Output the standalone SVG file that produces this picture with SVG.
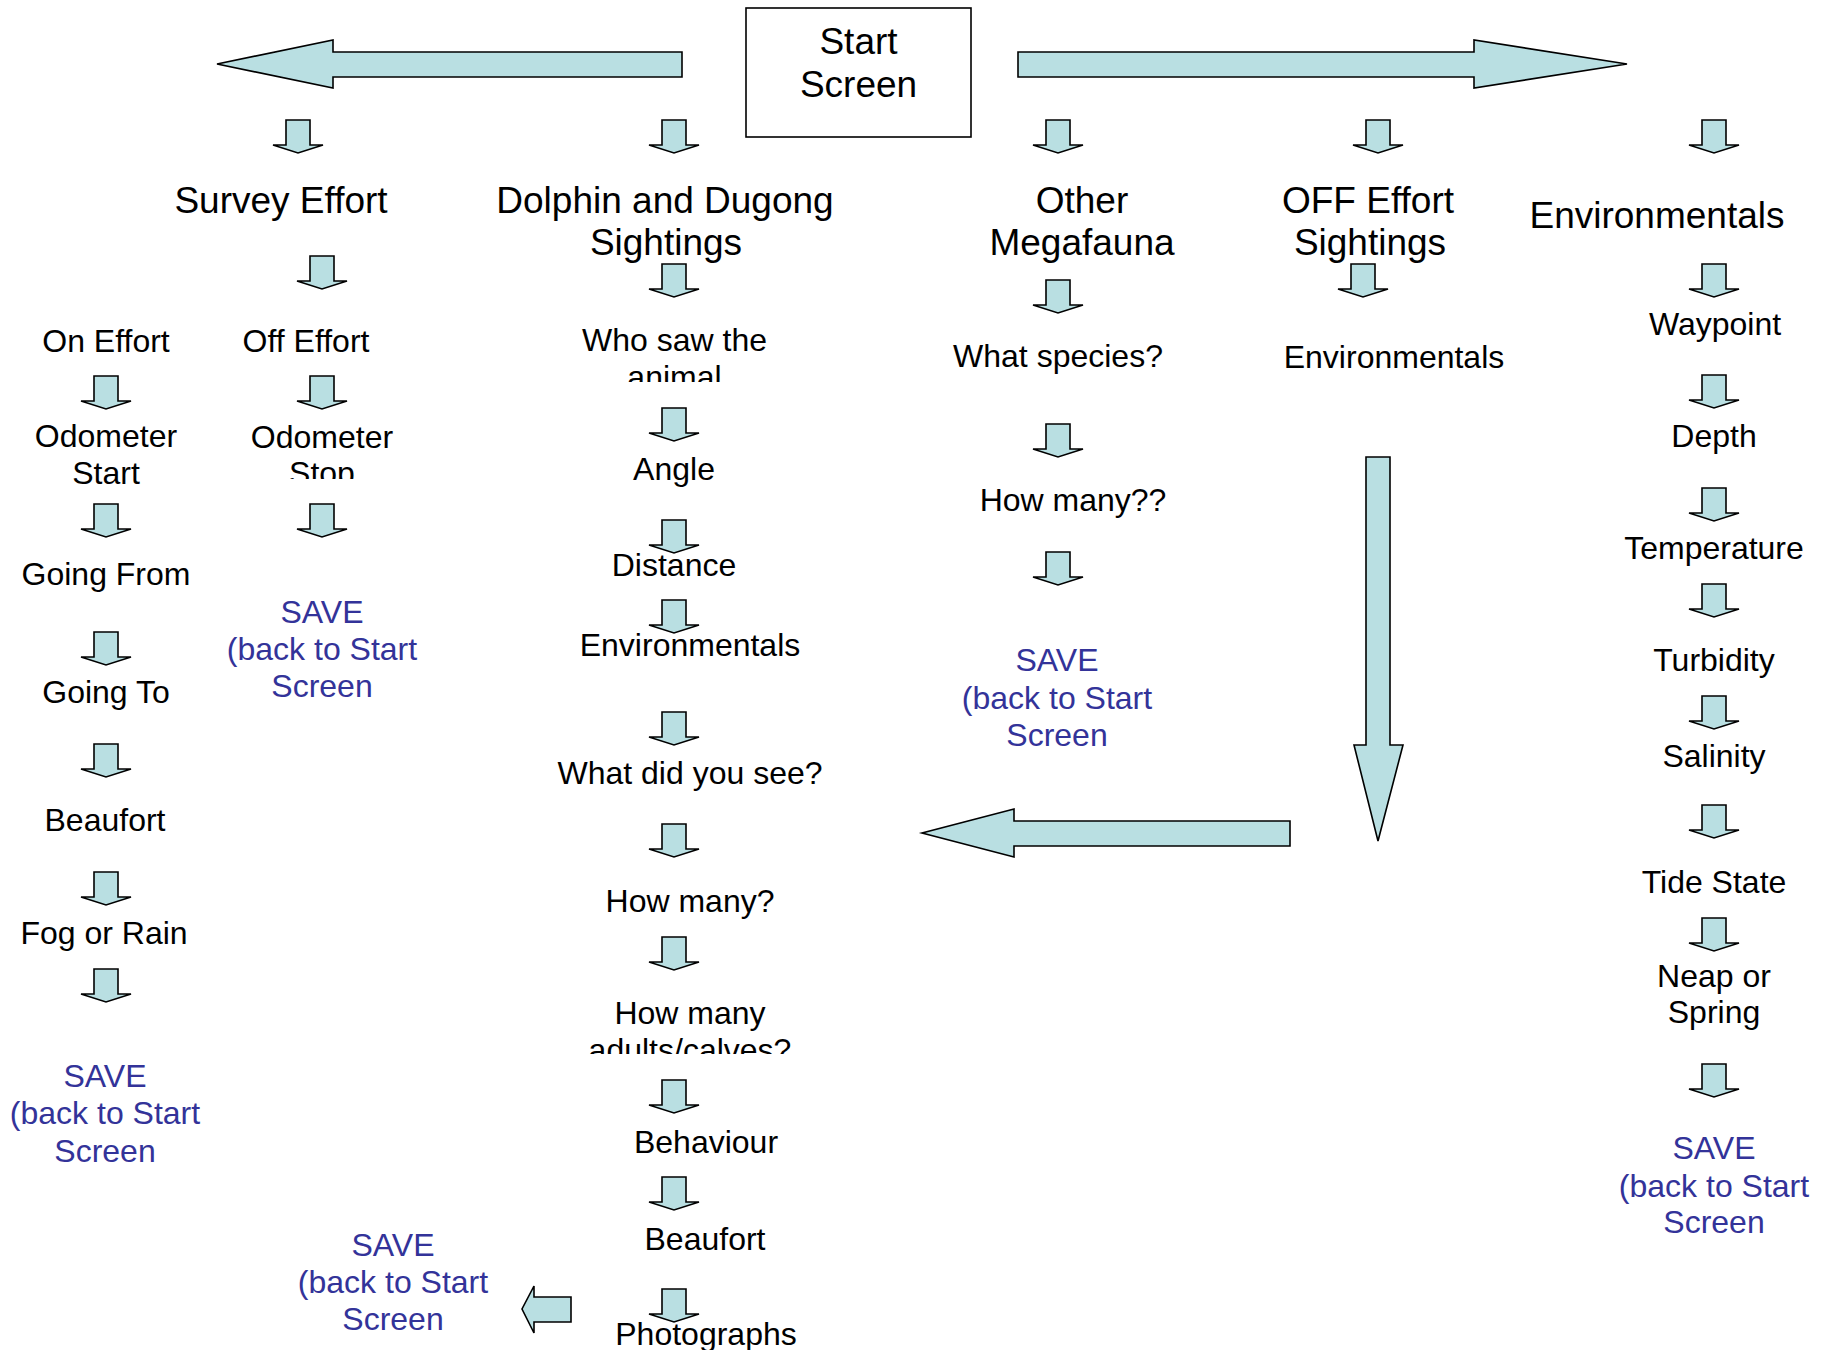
<svg xmlns="http://www.w3.org/2000/svg" xmlns:xlink="http://www.w3.org/1999/xlink" width="1828" height="1350" viewBox="0 0 1828 1350">
<style>
text{font-family:"Liberation Sans",Arial,sans-serif;text-anchor:middle;fill:#000}
.t{font-size:37px}
.l{font-size:32px}
.s{font-size:32px;fill:#333399}
.ar{fill:#b9dfe2;stroke:#000;stroke-width:1.6;stroke-linejoin:miter}
.box{fill:#fff;stroke:#000;stroke-width:1.6}
</style>
<defs>
<path id="da" d="M-12,0 H12 V25 H25 L0,33 L-25,25 H-12 Z"/>
<clipPath id="cStop"><rect x="200" y="400" width="250" height="79"/></clipPath>
<clipPath id="cAnimal"><rect x="550" y="300" width="260" height="82"/></clipPath>
<clipPath id="cAdults"><rect x="550" y="990" width="280" height="64"/></clipPath>
</defs>
<rect width="1828" height="1350" fill="#fff"/>

<g id="connectors">
<polygon class="ar" points="682,52 333,52 333,40 217,64 333,88 333,77 682,77"/>
<polygon class="ar" points="1018,52 1474,52 1474,40 1627,64 1474,88 1474,77 1018,77"/>
<polygon class="ar" points="1366,457 1390,457 1390,745 1403,745 1378,841 1354,745 1366,745"/>
<polygon class="ar" points="1290,821 1014,821 1014,809 922,833 1014,857 1014,846 1290,846"/>
<polygon class="ar" points="571,1297 534,1297 534,1286 522,1309 534,1333 534,1322 571,1322"/>
<use href="#da" class="ar" x="298" y="120"/>
<use href="#da" class="ar" x="674" y="120"/>
<use href="#da" class="ar" x="1058" y="120"/>
<use href="#da" class="ar" x="1378" y="120"/>
<use href="#da" class="ar" x="1714" y="120"/>
<use href="#da" class="ar" x="322" y="256"/>
<use href="#da" class="ar" x="674" y="264"/>
<use href="#da" class="ar" x="1058" y="280"/>
<use href="#da" class="ar" x="1363" y="264"/>
<use href="#da" class="ar" x="1714" y="264"/>
<use href="#da" class="ar" x="106" y="376"/>
<use href="#da" class="ar" x="106" y="504"/>
<use href="#da" class="ar" x="106" y="632"/>
<use href="#da" class="ar" x="106" y="744"/>
<use href="#da" class="ar" x="106" y="872"/>
<use href="#da" class="ar" x="106" y="969"/>
<use href="#da" class="ar" x="322" y="376"/>
<use href="#da" class="ar" x="322" y="504"/>
<use href="#da" class="ar" x="674" y="408"/>
<use href="#da" class="ar" x="674" y="520"/>
<use href="#da" class="ar" x="674" y="600"/>
<use href="#da" class="ar" x="674" y="712"/>
<use href="#da" class="ar" x="674" y="824"/>
<use href="#da" class="ar" x="674" y="937"/>
<use href="#da" class="ar" x="674" y="1080"/>
<use href="#da" class="ar" x="674" y="1177"/>
<use href="#da" class="ar" x="674" y="1289"/>
<use href="#da" class="ar" x="1058" y="424"/>
<use href="#da" class="ar" x="1058" y="552"/>
<use href="#da" class="ar" x="1714" y="375"/>
<use href="#da" class="ar" x="1714" y="488"/>
<use href="#da" class="ar" x="1714" y="584"/>
<use href="#da" class="ar" x="1714" y="696"/>
<use href="#da" class="ar" x="1714" y="805"/>
<use href="#da" class="ar" x="1714" y="918"/>
<use href="#da" class="ar" x="1714" y="1064"/>
</g>

<g id="start-screen">
<rect class="box" x="746" y="8" width="225" height="129"/>
<text class="t" x="858.5" y="54">Start</text>
<text class="t" x="858.5" y="97">Screen</text>
</g>

<g id="survey-effort"><text class="t" x="281" y="213">Survey Effort</text></g>
<g id="dolphin-dugong"><text class="t" x="665" y="213">Dolphin and Dugong</text><text class="t" x="666" y="255">Sightings</text></g>
<g id="other-megafauna"><text class="t" x="1082" y="213">Other</text><text class="t" x="1082" y="255">Megafauna</text></g>
<g id="off-effort-sightings"><text class="t" x="1368" y="213">OFF Effort</text><text class="t" x="1370" y="255">Sightings</text></g>
<g id="environmentals"><text class="t" x="1657" y="228">Environmentals</text></g>

<g id="on-effort"><text class="l" x="106" y="352">On Effort</text></g>
<g id="odometer-start"><text class="l" x="106" y="447">Odometer</text><text class="l" x="106" y="484">Start</text></g>
<g id="going-from"><text class="l" x="106" y="585">Going From</text></g>
<g id="going-to"><text class="l" x="106" y="703">Going To</text></g>
<g id="beaufort-1"><text class="l" x="105" y="831">Beaufort</text></g>
<g id="fog-or-rain"><text class="l" x="104" y="944">Fog or Rain</text></g>
<g id="save-1"><text class="s" x="105" y="1087">SAVE</text><text class="s" x="105" y="1124">(back to Start</text><text class="s" x="105" y="1162">Screen</text></g>

<g id="off-effort"><text class="l" x="306" y="352">Off Effort</text></g>
<g id="odometer-stop"><text class="l" x="322" y="448">Odometer</text><text class="l" x="322" y="484" clip-path="url(#cStop)">Stop</text></g>
<g id="save-2"><text class="s" x="322" y="623">SAVE</text><text class="s" x="322" y="660">(back to Start</text><text class="s" x="322" y="697">Screen</text></g>

<g id="who-saw"><text class="l" x="674.5" y="351">Who saw the</text><text class="l" x="674.5" y="388" clip-path="url(#cAnimal)">animal</text></g>
<g id="angle"><text class="l" x="674" y="480">Angle</text></g>
<g id="distance"><text class="l" x="674" y="576">Distance</text></g>
<g id="environmentals-2"><text class="l" x="690" y="656">Environmentals</text></g>
<g id="what-did-you-see"><text class="l" x="690" y="784">What did you see?</text></g>
<g id="how-many-1"><text class="l" x="690" y="912">How many?</text></g>
<g id="how-many-adults"><text class="l" x="690" y="1024">How many</text><text class="l" x="690" y="1061" clip-path="url(#cAdults)">adults/calves?</text></g>
<g id="behaviour"><text class="l" x="706" y="1153">Behaviour</text></g>
<g id="beaufort-2"><text class="l" x="705" y="1250">Beaufort</text></g>
<g id="photographs"><text class="l" x="706" y="1345">Photographs</text></g>
<g id="save-3"><text class="s" x="393" y="1256">SAVE</text><text class="s" x="393" y="1293">(back to Start</text><text class="s" x="393" y="1330">Screen</text></g>

<g id="what-species"><text class="l" x="1058" y="367">What species?</text></g>
<g id="how-many-2"><text class="l" x="1073" y="511">How many??</text></g>
<g id="save-4"><text class="s" x="1057" y="671">SAVE</text><text class="s" x="1057" y="709">(back to Start</text><text class="s" x="1057" y="746">Screen</text></g>

<g id="environmentals-3"><text class="l" x="1394" y="368">Environmentals</text></g>

<g id="waypoint"><text class="l" x="1715" y="335">Waypoint</text></g>
<g id="depth"><text class="l" x="1714" y="447">Depth</text></g>
<g id="temperature"><text class="l" x="1714" y="559">Temperature</text></g>
<g id="turbidity"><text class="l" x="1714" y="671">Turbidity</text></g>
<g id="salinity"><text class="l" x="1714" y="767">Salinity</text></g>
<g id="tide-state"><text class="l" x="1714" y="893">Tide State</text></g>
<g id="neap-spring"><text class="l" x="1714" y="987">Neap or</text><text class="l" x="1714" y="1023">Spring</text></g>
<g id="save-5"><text class="s" x="1714" y="1159">SAVE</text><text class="s" x="1714" y="1197">(back to Start</text><text class="s" x="1714" y="1233">Screen</text></g>
</svg>
